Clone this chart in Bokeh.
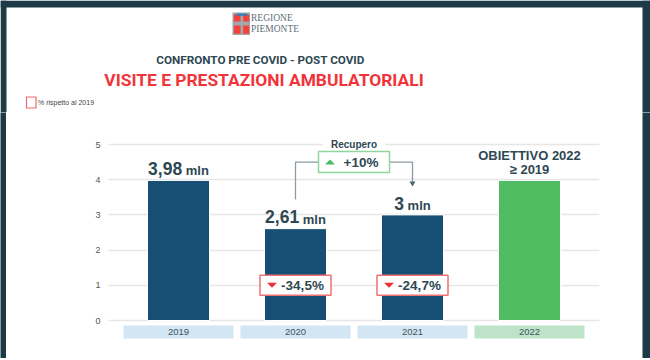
from bokeh.plotting import figure
from bokeh.layouts import column, row
from bokeh.models import Range1d, FixedTicker, ColumnDataSource
from bokeh.core.properties import value
from bokeh.embed import file_html
from bokeh.resources import INLINE

# ---------------- data ----------------
years = ["2019", "2020", "2021", "2022"]
visits = [3.98, 2.61, 3.00, 3.98]          # milioni di visite e prestazioni
visit_labels = ["3,98", "2,61", "3"]
unit_label = "mln"
pct_vs_2019 = ["-34,5%", "-24,7%"]
recovery_label = "+10%"
recovery_title = "Recupero"
target_lines = ["OBIETTIVO 2022", "\u2265 2019"]
title_1 = "CONFRONTO PRE COVID - POST COVID"
title_2 = "VISITE E PRESTAZIONI AMBULATORIALI"
legend_text = "% rispetto al 2019"
logo_lines = ["REGIONE", "PIEMONTE"]

# ---------------- style ----------------
NAVY = "#164f73"
GREEN = "#51bd63"
DARK = "#2e4853"
RED = "#f2343a"
FRAME = "#1d3a47"
FONT = value("Liberation Sans")
TITLE_FONT = value("Roboto")

# pixel scale of the chart (layout helpers, page pixels)
PX_X = 117.0   # px per category
PX_Y = 35.2    # px per million
def X(page_x):
    return (page_x - 178.0) / PX_X
def Y(page_y):
    return (320.0 - page_y) / PX_Y

HEAD_H = 112
CHART_H = 246
CHART_W = 636


def strip(w, h):
    f = figure(width=w, height=h, output_backend="svg", toolbar_location=None,
               x_axis_location=None, y_axis_location=None, min_border=0,
               outline_line_color=None, background_fill_color=FRAME,
               border_fill_color=FRAME)
    f.grid.visible = False
    return f


# ================= header =================
h = figure(width=650, height=HEAD_H, x_range=Range1d(0, 650),
           y_range=Range1d(HEAD_H, 0), output_backend="svg",
           toolbar_location=None, x_axis_location=None, y_axis_location=None,
           min_border=0, outline_line_color=None)
h.grid.visible = False
# dark frame
h.quad(left=[0, 0, 642], right=[650, 6, 650], top=[0, 0, 0],
       bottom=[7, HEAD_H, HEAD_H], fill_color=FRAME, line_color=None)
# logo
h.quad(left=[232], right=[249.5], top=[12], bottom=[34.5],
       fill_color="#a3a9ab", line_color=None)
h.quad(left=[233.3, 242.7, 233.3, 242.7], right=[240, 248.7, 240, 248.7],
       top=[14, 14, 25, 25], bottom=[21, 21, 33.3, 33.3],
       fill_color="#f3423c", line_color=None)
h.quad(left=[236], right=[247], top=[13], bottom=[15.3],
       fill_color="#2f7fc0", line_color=None)
h.text(x=[250.5, 250.5], y=[17.5, 28.5], text=logo_lines,
       text_font=value("Liberation Serif"), text_font_size="9.5px",
       text_color="#5f7078", text_align="left", text_baseline="middle")
# titles
h.text(x=[260], y=[59.3], text=[title_1], text_font=TITLE_FONT,
       text_font_size="11.7px", text_font_style="bold", text_color=DARK,
       text_align="center", text_baseline="middle")
h.text(x=[263.5], y=[79.7], text=[title_2], text_font=TITLE_FONT,
       text_font_size="17.4px", text_font_style="bold", text_color=RED,
       text_align="center", text_baseline="middle")
# legend
h.quad(left=[26], right=[35.5], top=[96.5], bottom=[107.5],
       fill_color="white", line_color="#f06868", line_width=1.2)
h.text(x=[37.5], y=[102], text=[legend_text], text_font=FONT,
       text_font_size="7px", text_color="#444444", text_align="left",
       text_baseline="middle")

# ================= chart =================
p = figure(width=CHART_W, height=CHART_H,
           x_range=Range1d(X(108), X(599)),
           y_range=Range1d(Y(HEAD_H + CHART_H), Y(HEAD_H)),
           output_backend="svg", toolbar_location=None,
           x_axis_location=None, y_axis_location="left",
           min_border_left=102, min_border_right=43,
           min_border_top=0, min_border_bottom=0,
           outline_line_color=None)

ticks = [0, 1, 2, 3, 4, 5]
p.yaxis.ticker = FixedTicker(ticks=ticks)
p.yaxis.axis_line_color = None
p.yaxis.major_tick_line_color = None
p.yaxis.minor_tick_line_color = None
p.yaxis.major_tick_out = 0
p.yaxis.major_tick_in = 0
p.yaxis.minor_tick_out = 0
p.yaxis.major_label_text_font = "Liberation Sans"
p.yaxis.major_label_text_font_size = "9px"
p.yaxis.major_label_text_color = "#555555"
p.yaxis.major_label_standoff = 8
p.xgrid.visible = False
p.ygrid.ticker = FixedTicker(ticks=ticks)
p.ygrid.grid_line_color = "#e6e6e6"
p.ygrid.grid_line_width = 1.5

idx = list(range(len(years)))

# bars
bar_colors = [NAVY, NAVY, NAVY, GREEN]
p.vbar(x=idx, top=visits, bottom=0, width=0.53, fill_color=bar_colors,
       line_color="white", line_width=1)

# category boxes + labels
box_colors = ["#d3e6f4", "#d3e6f4", "#d3e6f4", "#bde4c8"]
p.rect(x=idx, y=[Y(331.5)] * 4, width=110 / PX_X, height=13 / PX_Y,
       fill_color=box_colors, line_color=None)
p.text(x=idx, y=[Y(331.5)] * 4, text=years, text_font=FONT,
       text_font_size="9.5px", text_color="#3d5560",
       text_align="center", text_baseline="middle")

# value labels (number big + "mln" small)
W = {'0': .556, '1': .556, '2': .556, '3': .556, '4': .556, '5': .556,
     '6': .556, '7': .556, '8': .556, '9': .556, ',': .278, ' ': .278,
     'm': .889, 'l': .278, 'n': .611}
NUM_FS, UNIT_FS = 17.5, 13.0
vx, vy_num, vy_unit, num_off, unit_off = [], [], [], [], []
for i, lab in enumerate(visit_labels):
    wn = sum(W[c] for c in lab) * NUM_FS
    gap = W[' '] * UNIT_FS
    wu = sum(W[c] for c in unit_label) * UNIT_FS
    tot = wn + gap + wu
    vx.append(idx[i])
    vy_num.append(visits[i] + 11.7 / PX_Y)
    vy_unit.append(visits[i] + 9.6 / PX_Y)
    num_off.append(-tot / 2)
    unit_off.append(-tot / 2 + wn + gap)
src_val = ColumnDataSource(dict(x=vx, yn=vy_num, yu=vy_unit, num=visit_labels,
                                unit=[unit_label] * len(visit_labels),
                                xo=num_off, uo=unit_off))
p.text(x="x", y="yn", text="num", x_offset="xo", source=src_val,
       text_font=FONT, text_font_size="17.5px", text_font_style="bold",
       text_color=DARK, text_align="left", text_baseline="middle")
p.text(x="x", y="yu", text="unit", x_offset="uo", source=src_val,
       text_font=FONT, text_font_size="13px", text_font_style="bold",
       text_color=DARK, text_align="left", text_baseline="middle")

# target 2022 label
p.text(x=[idx[3], idx[3]], y=[visits[3] + 11 / PX_Y, visits[3] + 24.6 / PX_Y],
       text=[target_lines[1], target_lines[0]], text_font=FONT,
       text_font_size="13px", text_font_style="bold", text_color=DARK,
       text_align="center", text_baseline="middle")

# connector "Recupero"
rec_y = 4.5
p.line(x=[idx[1], idx[1], idx[2], idx[2]],
       y=[Y(199), rec_y, rec_y, Y(182)], line_color="#8a9ba2", line_width=1.3)
p.patch(x=[idx[2] - 3 / PX_X, idx[2] + 3 / PX_X, idx[2]],
        y=[Y(181), Y(181), Y(186)], fill_color="#4d6670", line_color=None)

# percentage boxes (vs 2019)
pct_x = [idx[1], idx[2]]
pct_y = [1.0, 1.0]
p.rect(x=pct_x, y=pct_y, width=71, height=20, width_units="screen",
       height_units="screen", fill_color="white", line_color="#f07272",
       line_width=1.5)
p.text(x=pct_x, y=pct_y, text=pct_vs_2019, x_offset=7, text_font=FONT,
       text_font_size="13.5px", text_font_style="bold", text_color=DARK,
       text_align="center", text_baseline="middle")
p.patches(xs=[[c - 28.5 / PX_X, c - 18.5 / PX_X, c - 23.5 / PX_X] for c in pct_x],
          ys=[[v + 2.5 / PX_Y, v + 2.5 / PX_Y, v - 2.5 / PX_Y] for v in pct_y],
          fill_color="#f03030", line_color=None)

# recovery box
rec_x = 1.5
p.rect(x=[rec_x], y=[rec_y], width=71, height=21, width_units="screen",
       height_units="screen", fill_color="white", line_color="#8fd69a",
       line_width=1.5)
p.text(x=[rec_x], y=[rec_y], text=[recovery_label], x_offset=7, text_font=FONT,
       text_font_size="13.5px", text_font_style="bold", text_color=DARK,
       text_align="center", text_baseline="middle")
p.patch(x=[rec_x - 29 / PX_X, rec_x - 19 / PX_X, rec_x - 24 / PX_X],
        y=[rec_y - 2.5 / PX_Y, rec_y - 2.5 / PX_Y, rec_y + 2.5 / PX_Y],
        fill_color="#4cb963", line_color=None)

# "Recupero" label on the 5 gridline
p.rect(x=[rec_x], y=[5.0], width=62, height=10, width_units="screen",
       height_units="screen", fill_color="white", line_color=None)
p.text(x=[rec_x], y=[5.0], text=[recovery_title], text_font=FONT,
       text_font_size="10px", text_font_style="bold", text_color=DARK,
       text_align="center", text_baseline="middle")

layout = column(h,
                row(strip(6, CHART_H), p, strip(8, CHART_H)),
                strip(650, 2))

open("out.html", "w").write(file_html(layout, INLINE))
